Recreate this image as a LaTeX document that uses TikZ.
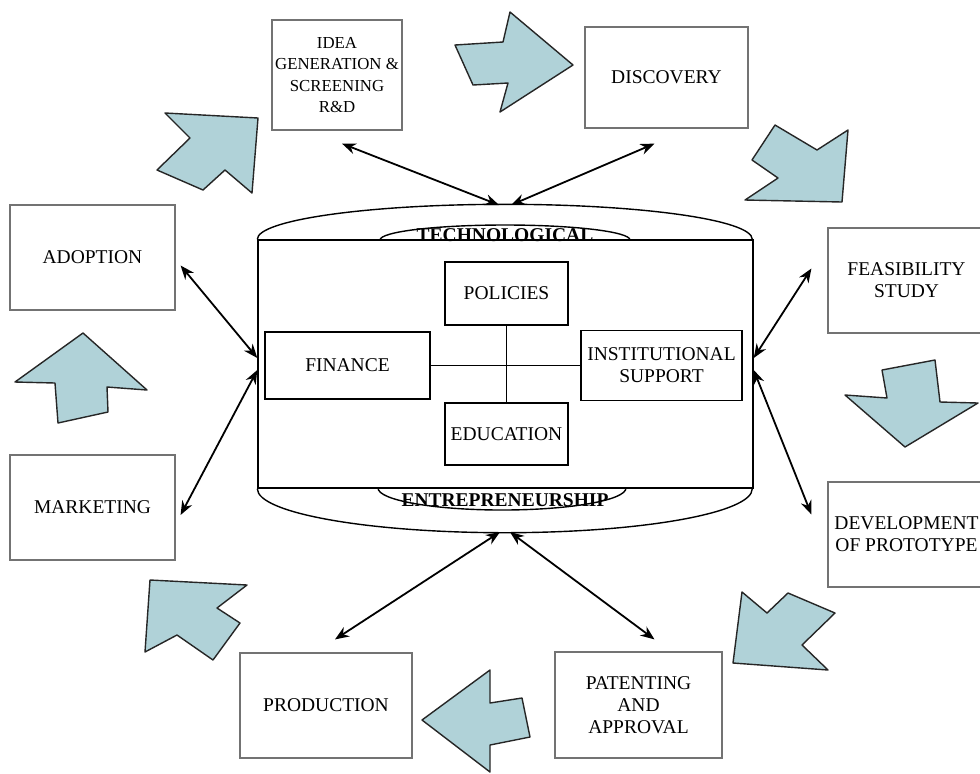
\documentclass[tikz,border=0pt]{standalone}
\usepackage{fontspec}
\setmainfont{Liberation Serif}
\usetikzlibrary{arrows.meta}

\definecolor{arrowblue}{RGB}{176,210,216}

\tikzset{
  stage/.style={draw=black!55, line width=0.6pt, align=center, inner sep=0pt,
    font=\fontsize{9.75}{11}\selectfont},
  factor/.style={draw, line width=0.7pt, align=center, inner sep=0pt,
    font=\fontsize{9.75}{11}\selectfont},
  capfont/.style={font=\fontsize{9.75}{11}\selectfont\bfseries, inner sep=0pt},
  link/.style={{Stealth[length=7pt,width=5.5pt]}-{Stealth[length=7pt,width=5.5pt]}, line width=0.9pt},
  bigarrow/.style={fill=arrowblue, draw=black!85, line width=0.7pt, line join=round},
}

\begin{document}
\begin{tikzpicture}[x=0.5pt,y=-0.5pt]
\fill[white] (0,0) rectangle (980,773);
\useasboundingbox (0,0) rectangle (980,773);

% stages round the cycle
\node[stage, minimum width=65pt, minimum height=55pt, font=\fontsize{8.4}{10.8}\selectfont] (idea) at (337,75) {IDEA\\GENERATION \&\\SCREENING\\R\&D};
\node[stage, minimum width=81.5pt, minimum height=50.5pt] (discovery) at (666.5,77.5) {DISCOVERY};
\node[stage, minimum width=78.5pt, minimum height=52.5pt] (feasibility) at (906.5,280.5) {FEASIBILITY\\STUDY};
\node[stage, minimum width=78.5pt, minimum height=52.5pt] (development) at (906.5,534.5) {DEVELOPMENT\\OF PROTOTYPE};
\node[stage, minimum width=83.5pt, minimum height=53pt] (patenting) at (638.5,705) {PATENTING\\AND\\APPROVAL};
\node[stage, minimum width=86pt, minimum height=52.5pt] (production) at (326,705.5) {PRODUCTION};
\node[stage, minimum width=82.5pt, minimum height=52.5pt] (marketing) at (92.5,507.5) {MARKETING};
\node[stage, minimum width=82.5pt, minimum height=52.5pt] (adoption) at (92.5,257.5) {ADOPTION};

% the cylinder
\node[draw, line width=0.7pt, minimum width=247.5pt, minimum height=124pt, inner sep=0pt] (core) at (505.5,364) {};
\draw[line width=0.7pt] (core.north west) arc[start angle=180, end angle=0, x radius=123.75pt, y radius=17.5pt];
\draw[line width=0.7pt] (core.south west) arc[start angle=180, end angle=360, x radius=123.75pt, y radius=22pt];
\draw[line width=0.7pt] (380,240) arc[start angle=180, end angle=0, x radius=62.5pt, y radius=7.5pt];
\draw[line width=0.7pt] (378,488) arc[start angle=180, end angle=360, x radius=62pt, y radius=11pt];
\node[capfont] (techno) at (505,235) {TECHNOLOGICAL};
\node[capfont] (entre) at (505,500) {ENTREPRENEURSHIP};
\coordinate (capN) at (505,205);
\coordinate (capS) at (505,532);

% factors inside
\node[factor, minimum width=61.5pt, minimum height=31.5pt] (policies) at (506.5,293.5) {POLICIES};
\node[factor, minimum width=82.5pt, minimum height=33.5pt] (finance) at (347.5,365.5) {FINANCE};
\node[factor, minimum width=80.5pt, minimum height=35pt] (support) at (661.5,365.5) {INSTITUTIONAL\\SUPPORT};
\node[factor, minimum width=61.5pt, minimum height=31pt] (education) at (506.5,434) {EDUCATION};
\draw[line width=0.7pt] (finance.east) -- (support.west);
\draw[line width=0.7pt] (policies.south) -- (education.north);

% links to the cylinder
\draw[link] ([xshift=2.5pt,yshift=-6.5pt]idea.south) -- ([xshift=-3pt]capN);
\draw[link] ([xshift=-6pt,yshift=-7.5pt]discovery.south) -- ([xshift=3pt]capN);
\draw[link] ([xshift=2.5pt,yshift=-4pt]adoption.east) -- ([yshift=3pt]core.west);
\draw[link] ([xshift=2.5pt,yshift=-3.75pt]marketing.east) -- ([yshift=-3pt]core.west);
\draw[link] ([xshift=-8pt,yshift=6pt]feasibility.west) -- ([yshift=3pt]core.east);
\draw[link] ([xshift=-8pt,yshift=10pt]development.west) -- ([yshift=-3pt]core.east);
\draw[link] ([xshift=4.5pt,yshift=6.5pt]production.north) -- ([xshift=-2.5pt]capS);
\draw[link] ([xshift=8pt,yshift=6pt]patenting.north) -- ([xshift=2.5pt]capS);

% block arrows of the cycle
\draw[bigarrow] (455,45) -- (503,42) -- (510,12) -- (573,65) -- (500,112) -- (508,83) -- (473,85) -- cycle;
\draw[bigarrow] (775,125) -- (817,150) -- (848,130) -- (842,202) -- (745,200) -- (778,178) -- (752,160) -- cycle;
\draw[bigarrow] (882,370) -- (935,360) -- (940,402) -- (978,403) -- (905,447) -- (845,395) -- (887,398) -- cycle;
\draw[bigarrow] (742,592) -- (767,613) -- (788,593) -- (835,613) -- (802,645) -- (828,670) -- (733,663) -- cycle;
\draw[bigarrow] (490,670) -- (490,703) -- (522,698) -- (530,737) -- (490,745) -- (490,772) -- (422,720) -- cycle;
\draw[bigarrow] (150,580) -- (247,585) -- (217,608) -- (240,623) -- (213,660) -- (177,635) -- (145,652) -- cycle;
\draw[bigarrow] (83,333) -- (147,390) -- (107,387) -- (108,412) -- (58,423) -- (55,383) -- (15,382) -- cycle;
\draw[bigarrow] (165,113) -- (258,118) -- (252,193) -- (225,170) -- (203,190) -- (157,170) -- (190,138) -- cycle;
\end{tikzpicture}
\end{document}
